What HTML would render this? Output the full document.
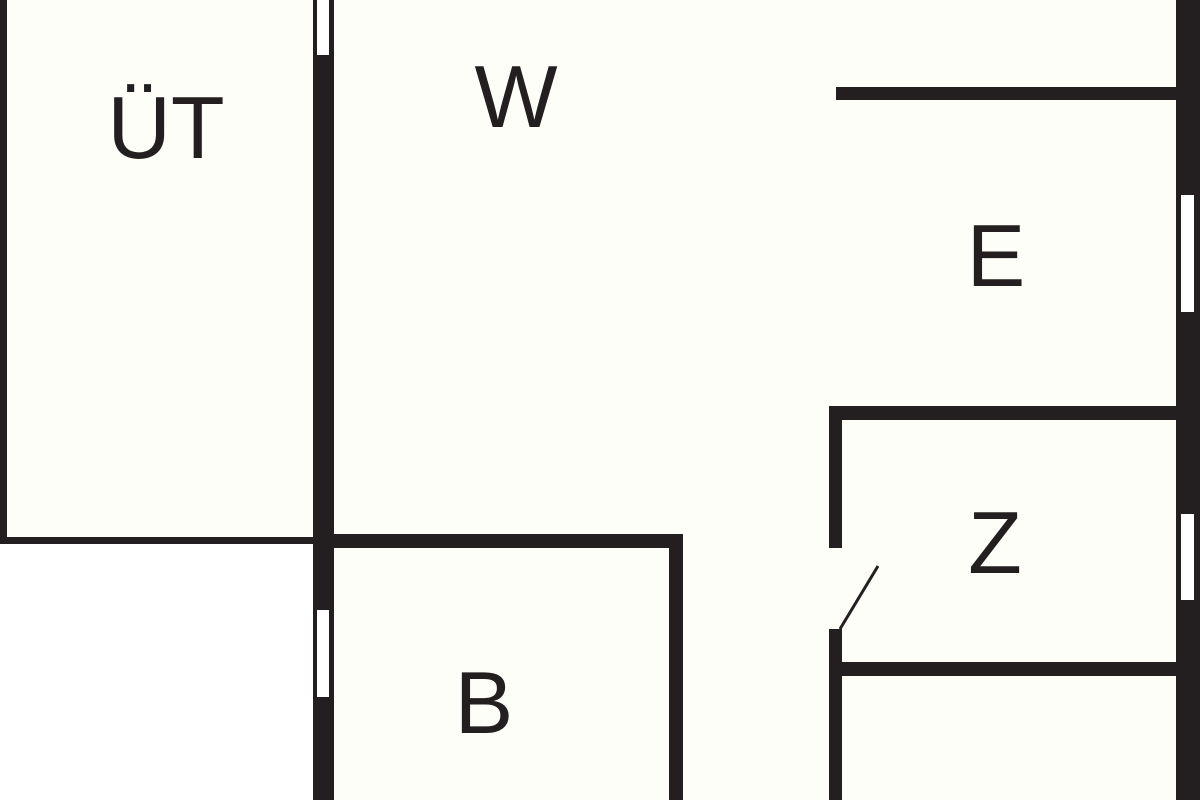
<!DOCTYPE html>
<html><head><meta charset="utf-8"><style>
html,body{margin:0;padding:0;background:#fff}
svg{display:block}
text{font-family:"Liberation Sans",sans-serif;font-size:88px;fill:#231f20}
</style></head><body>
<svg width="1200" height="800" viewBox="0 0 1200 800" xmlns="http://www.w3.org/2000/svg">
<rect x="0" y="0" width="1200" height="800" fill="#fefef9"/>
<rect x="0" y="544" width="313" height="256" fill="#ffffff"/>
<g fill="#231f20">
<rect x="0" y="0" width="7" height="544"/>
<rect x="0" y="537" width="320" height="7"/>
<rect x="313" y="0" width="21" height="800"/>
<rect x="334" y="534" width="349" height="14"/>
<rect x="669" y="534" width="14" height="266"/>
<rect x="1176" y="0" width="24" height="800"/>
<rect x="836" y="87" width="340" height="13"/>
<rect x="829" y="406" width="347" height="14"/>
<rect x="829" y="406" width="13" height="142"/>
<rect x="829" y="629" width="13" height="171"/>
<rect x="842" y="662" width="334" height="14"/>
</g>
<g fill="#ffffff">
<rect x="317" y="0" width="12" height="55"/>
<rect x="317" y="610" width="12" height="87"/>
<rect x="1181" y="195" width="13" height="117"/>
<rect x="1181" y="514" width="13" height="86"/>
</g>
<line x1="840" y1="629" x2="878" y2="566" stroke="#231f20" stroke-width="3"/>
<text x="166" y="158" text-anchor="middle">ÜT</text>
<text x="516" y="127" text-anchor="middle">W</text>
<text x="996" y="286" text-anchor="middle">E</text>
<text x="995" y="573" text-anchor="middle">Z</text>
<text x="484" y="733" text-anchor="middle">B</text>
</svg>
</body></html>
